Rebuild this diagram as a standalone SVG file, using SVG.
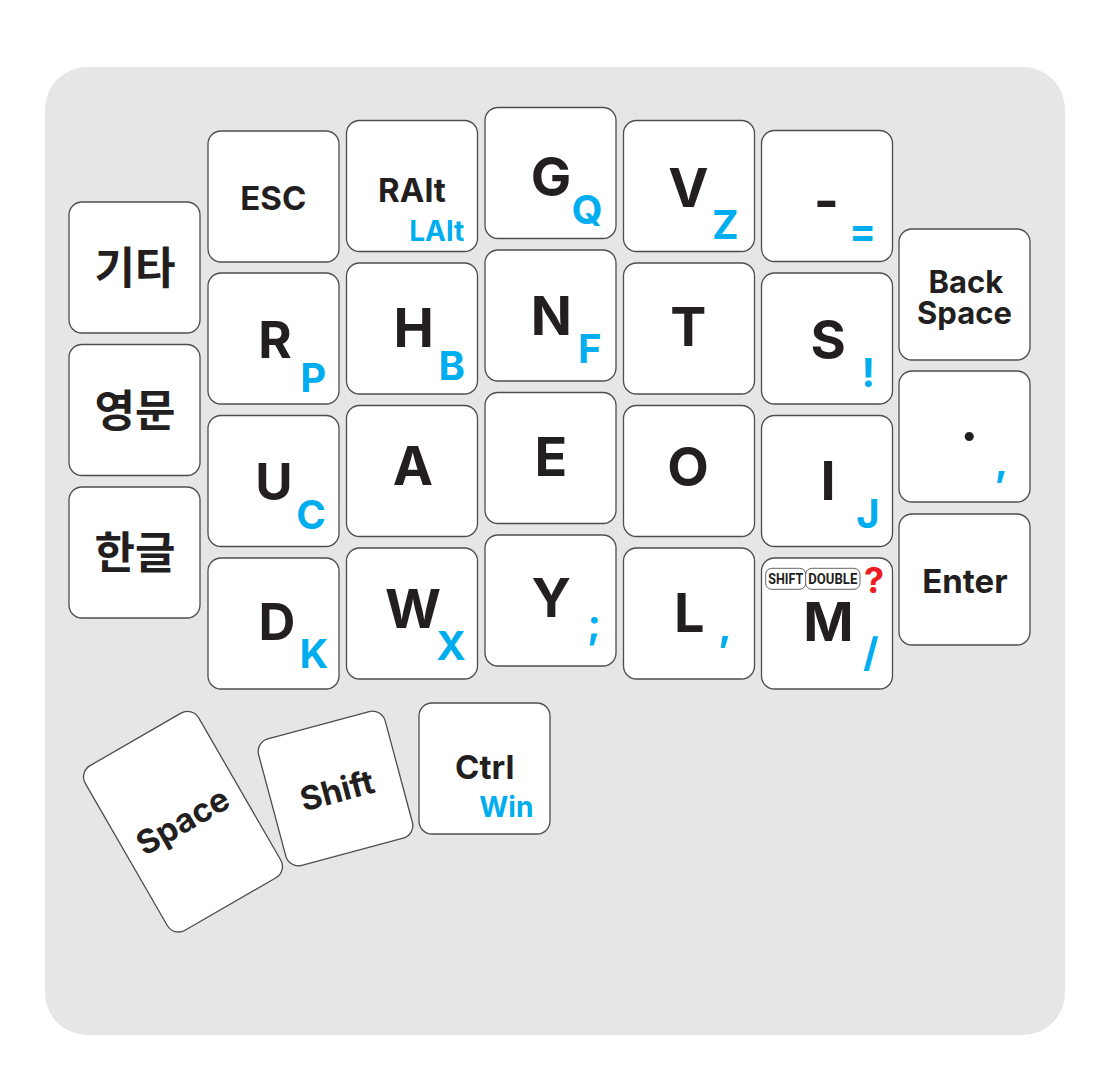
<svg xmlns="http://www.w3.org/2000/svg" width="1112" height="1080" viewBox="0 0 1112 1080">
<style>
.key{fill:#ffffff;stroke:#4d4d4d;stroke-width:1.3}
.m{font-family:Inter,"Noto Sans",sans-serif;font-weight:700;font-size:54px;fill:#231f20;text-anchor:middle}
.m1{font-family:Inter,"Noto Sans",sans-serif;font-weight:700;font-size:51px;fill:#231f20;text-anchor:middle}
.s{font-family:Inter,"Noto Sans",sans-serif;font-weight:700;font-size:40px;fill:#00aeef;text-anchor:middle}
.w{font-family:Inter,"Noto Sans",sans-serif;font-weight:700;font-size:33px;fill:#231f20;text-anchor:middle}
.bs{font-family:Inter,"Noto Sans",sans-serif;font-weight:700;font-size:31px;fill:#231f20;text-anchor:middle}
.ws{font-family:Inter,"Noto Sans",sans-serif;font-weight:700;font-size:28px;fill:#00aeef;text-anchor:middle}
.k{font-family:"Noto Sans CJK KR","Noto Sans",sans-serif;font-weight:700;font-size:44px;fill:#231f20;text-anchor:middle}
.badge{fill:#ffffff;stroke:#666666;stroke-width:1}
.bt{font-family:Roboto,"Noto Sans",sans-serif;font-weight:700;font-size:14px;fill:#231f20}
</style>
<rect x="45" y="67" width="1020" height="968" rx="42" fill="#e6e6e6"/>
<g id="connectors"/>

<g id="key-other"><rect class="key" x="69" y="202" width="131" height="131" rx="13"/><text class="k" x="135" y="284">기타</text></g>
<g id="key-english"><rect class="key" x="69" y="344.5" width="131" height="131" rx="13"/><text class="k" x="135" y="426.5">영문</text></g>
<g id="key-hangul"><rect class="key" x="69" y="487" width="131" height="131" rx="13"/><text class="k" x="135" y="569">한글</text></g>

<g id="key-esc"><rect class="key" x="208" y="131" width="131" height="131" rx="13"/><text class="w" x="273.3" y="210">ESC</text></g>
<g id="key-r"><rect class="key" x="208" y="273" width="131" height="131" rx="13"/><text class="m1" x="275" y="357.7">R</text><text class="s" x="313.3" y="391.7">P</text></g>
<g id="key-u"><rect class="key" x="208" y="415.5" width="131" height="131" rx="13"/><text class="m1" x="274" y="500">U</text><text class="s" x="311" y="529">C</text></g>
<g id="key-d"><rect class="key" x="208" y="558" width="131" height="131" rx="13"/><text class="m1" x="277" y="640">D</text><text class="s" x="314" y="668.3">K</text></g>

<g id="key-ralt"><rect class="key" x="346.5" y="120.5" width="131" height="131" rx="13"/><text class="w" x="412" y="201.7">RAlt</text><text class="ws" x="436.7" y="240.7">LAlt</text></g>
<g id="key-h"><rect class="key" x="346.5" y="263" width="131" height="131" rx="13"/><text class="m" x="413.7" y="346.7">H</text><text class="s" x="451.7" y="380">B</text></g>
<g id="key-a"><rect class="key" x="346.5" y="405.5" width="131" height="131" rx="13"/><text class="m" x="413" y="485">A</text></g>
<g id="key-w"><rect class="key" x="346.5" y="548" width="131" height="131" rx="13"/><text class="m" x="413" y="628">W</text><text class="s" x="451" y="660">X</text></g>

<g id="key-g"><rect class="key" x="485" y="107.5" width="131" height="131" rx="13"/><text class="m" x="551" y="196">G</text><text class="s" x="587" y="224">Q</text></g>
<g id="key-n"><rect class="key" x="485" y="250" width="131" height="131" rx="13"/><text class="m" x="551.3" y="335">N</text><text class="s" x="589.7" y="363.3">F</text></g>
<g id="key-e"><rect class="key" x="485" y="392.5" width="131" height="131" rx="13"/><text class="m" x="551" y="476">E</text></g>
<g id="key-y"><rect class="key" x="485" y="535" width="131" height="131" rx="13"/><text class="m" x="551.2" y="617.3">Y</text><text class="s" x="594" y="638">;</text></g>

<g id="key-v"><rect class="key" x="623.5" y="120.5" width="131" height="131" rx="13"/><text class="m" x="688.3" y="207.3">V</text><text class="s" x="725.3" y="239.3">Z</text></g>
<g id="key-t"><rect class="key" x="623.5" y="263" width="131" height="131" rx="13"/><text class="m" x="688.3" y="346">T</text></g>
<g id="key-o"><rect class="key" x="623.5" y="405.5" width="131" height="131" rx="13"/><text class="m" x="688" y="486">O</text></g>
<g id="key-l"><rect class="key" x="623.5" y="548" width="131" height="131" rx="13"/><text class="m" x="689.2" y="631.7">L</text><text class="s" x="725" y="640">,</text></g>

<g id="key-minus"><rect class="key" x="761.5" y="130.5" width="131" height="131" rx="13"/><text class="m" x="826.3" y="220">-</text><text class="s" x="862.5" y="245">=</text></g>
<g id="key-s"><rect class="key" x="761.5" y="273" width="131" height="131" rx="13"/><text class="m" x="828.3" y="358.5">S</text><text class="s" x="868.3" y="386.7">!</text></g>
<g id="key-i"><rect class="key" x="761.5" y="415.5" width="131" height="131" rx="13"/><text class="m" x="828" y="500">I</text><text class="s" x="868" y="528">J</text></g>
<g id="key-m"><rect class="key" x="761.5" y="558" width="131" height="131" rx="13"/>
<rect class="badge" x="765.7" y="568.3" width="40" height="21" rx="6"/><text class="bt" x="768.3" y="584.3" textLength="35" lengthAdjust="spacingAndGlyphs">SHIFT</text>
<rect class="badge" x="805.7" y="568.3" width="54.3" height="21" rx="6"/><text class="bt" x="808.3" y="584.3" textLength="49" lengthAdjust="spacingAndGlyphs">DOUBLE</text>
<text x="874" y="592.7" style="font-family:Inter,'Noto Sans',sans-serif;font-weight:700;font-size:36px;fill:#ed1c24;text-anchor:middle">?</text>
<text class="m" x="828.3" y="640.7">M</text><text class="s" x="870.8" y="667">/</text></g>

<g id="key-backspace"><rect class="key" x="899" y="229" width="131" height="131" rx="13"/><text class="bs" x="965.8" y="292.7">Back</text><text class="bs" x="964.5" y="324">Space</text></g>
<g id="key-period"><rect class="key" x="899" y="371" width="131" height="131" rx="13"/><text class="m" x="969.3" y="441">.</text><text class="s" x="1001.5" y="475">,</text></g>
<g id="key-enter"><rect class="key" x="899" y="514" width="131" height="131" rx="13"/><text class="w" x="965" y="592.7">Enter</text></g>

<g id="key-space" transform="translate(183 821.7) rotate(-30)"><rect class="key" x="-65.5" y="-95" width="131" height="190" rx="13"/><text class="w" x="0" y="11">Space</text></g>
<g id="key-shift" transform="translate(335.5 788.5) rotate(-15)"><rect class="key" x="-65.5" y="-65.5" width="131" height="131" rx="13"/><text class="w" x="1" y="14">Shift</text></g>
<g id="key-ctrl"><rect class="key" x="419" y="703" width="131" height="131" rx="13"/><text class="w" x="484.7" y="779.3">Ctrl</text><text class="ws" x="506.3" y="816.7">Win</text></g>
</svg>
